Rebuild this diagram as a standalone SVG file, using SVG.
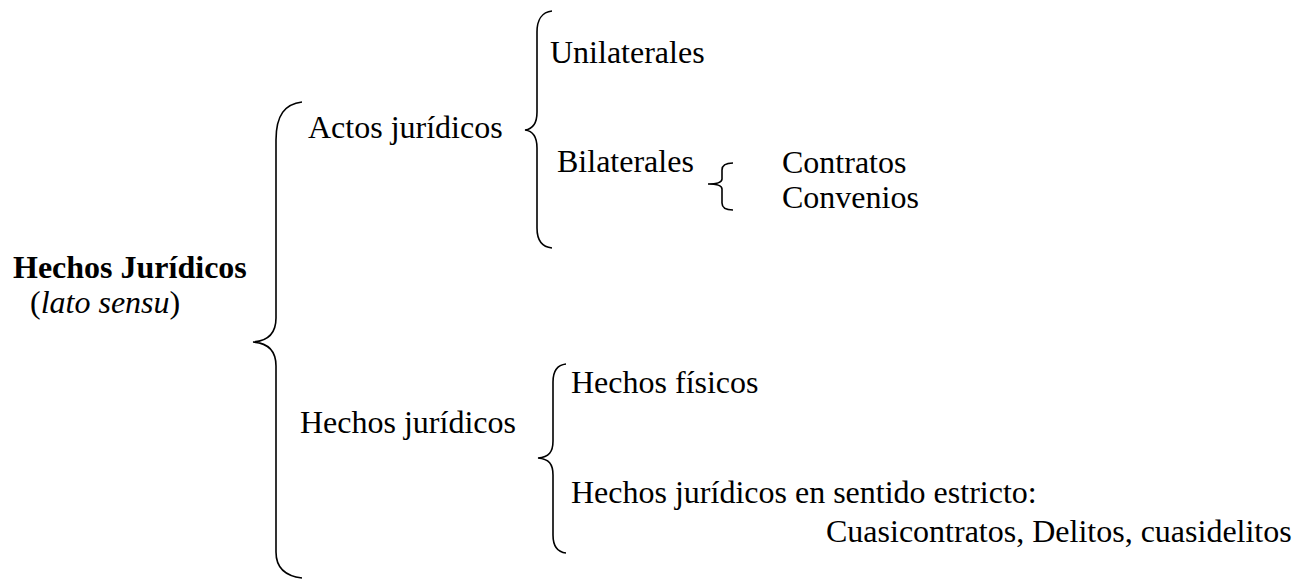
<svg xmlns="http://www.w3.org/2000/svg" width="1304" height="579" viewBox="0 0 1304 579">
<style>
text{font-family:"Liberation Serif","Times New Roman",serif;font-size:32px;fill:#000}
.b{font-weight:bold}
.i{font-style:italic}
.br{fill:none;stroke:#000;stroke-width:1.6}
</style>
<rect width="1304" height="579" fill="#fff"/>
<g id="connectors">
<path class="br" d="M302,102 C285,104 276,115 276,140 L276,318 C276,334 268,341 253,342 C268,343 276,350 276,366 L276,552 C276,567 285,576 302,578"/>
<path class="br" d="M552,11 C542,12 537,20 537,32 L537,112 C537,122 533,129 525,130 C533,131 537,138 537,148 L537,228 C537,240 542,247 552,248"/>
<path class="br" d="M733,163 C726,163 722,165 722,170 L722,179 C722,183 717,184 708,184 C717,184 722,185 722,189 L722,203 C722,208 726,210 733,210"/>
<path class="br" d="M566,364 C557,365 553,372 553,382 L553,441 C553,452 549,457 538,458 C549,459 553,464 553,475 L553,535 C553,546 557,552 566,553"/>
</g>
<g id="root"><text class="b" x="13" y="278">Hechos Jurídicos</text><text x="30" y="313">(<tspan class="i">lato sensu</tspan>)</text></g>
<g id="actos"><text x="308" y="138">Actos jurídicos</text></g>
<g id="unilaterales"><text x="550" y="63">Unilaterales</text></g>
<g id="bilaterales"><text x="557" y="172">Bilaterales</text></g>
<g id="contratos"><text x="782" y="173">Contratos</text></g>
<g id="convenios"><text x="782" y="208">Convenios</text></g>
<g id="hechos"><text x="300" y="433">Hechos jurídicos</text></g>
<g id="fisicos"><text x="571" y="393">Hechos físicos</text></g>
<g id="estricto"><text x="571" y="503">Hechos jurídicos en sentido estricto:</text><text x="826" y="542">Cuasicontratos, Delitos, cuasidelitos</text></g>
</svg>
